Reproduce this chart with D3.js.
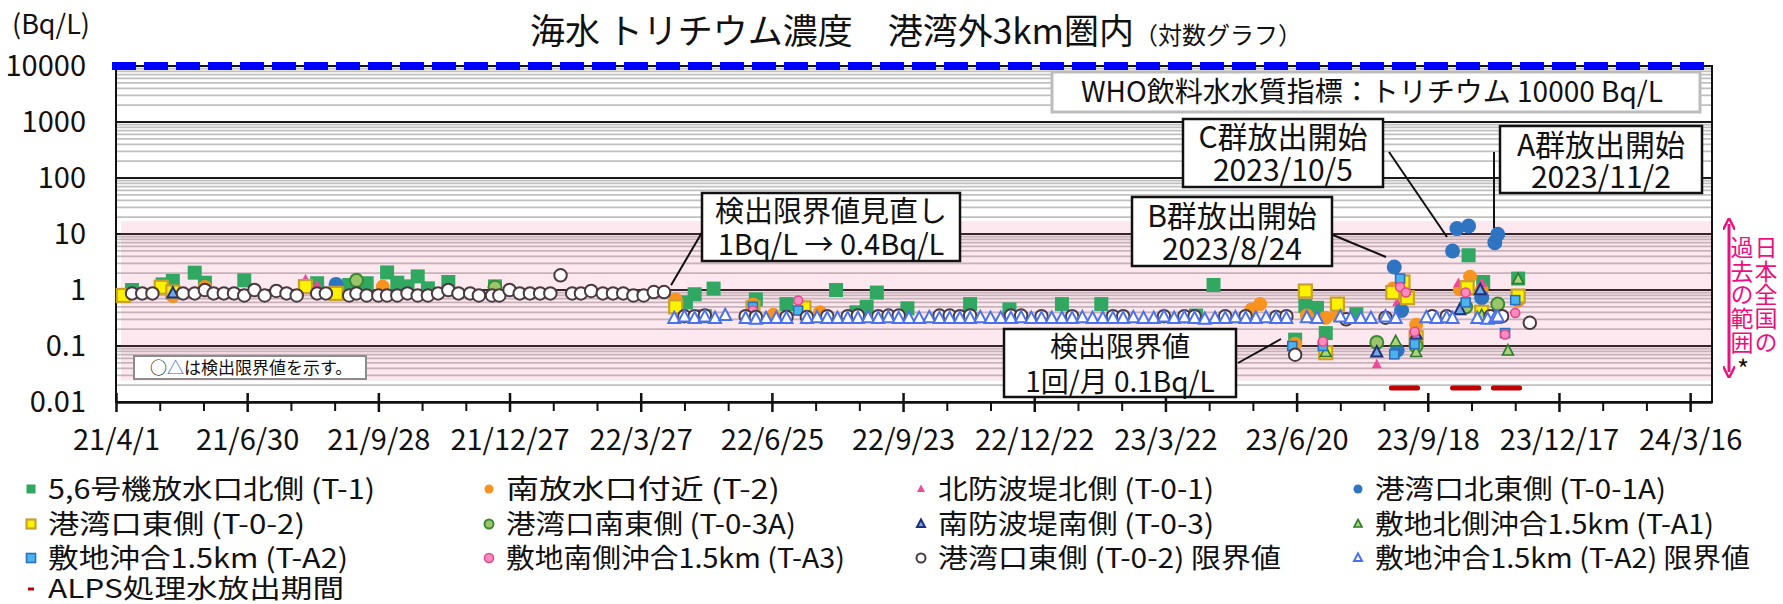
<!DOCTYPE html>
<html lang="ja">
<head>
<meta charset="UTF-8">
<title>海水 トリチウム濃度</title>
<script src="https://cdn.jsdelivr.net/npm/d3@7"></script>
<style>
  body { margin: 0; background: #fff; }
  #chart { position: relative; width: 1783px; height: 604px; }
  text { font-family: "Noto Sans CJK JP", "Noto Sans", sans-serif; fill: #111; }
  .vlabel { position: absolute; writing-mode: vertical-rl; font-family: "Noto Sans CJK JP", sans-serif;
            font-size: 23px; line-height: 24px; letter-spacing: 0.6px; color: #ec0f7e; white-space: nowrap; }
</style>
</head>
<body>
<div id="chart"></div>
<script>

// ---- data (date as yy/m/d, value Bq/L) ----
var t1 = ["21/4/12 1.0","21/5/3 1.26","21/5/10 1.45","21/5/25 2.04","21/6/1 1.35","21/6/28 1.49","21/8/17 1.32",
    "21/9/8 1.23","21/9/20 1.32","21/10/4 2.06","21/10/11 1.35","21/10/18 1.16","21/10/25 1.75","21/11/1 1.07",
    "21/11/15 1.39","21/12/17 1.16","22/4/27 0.6","22/5/3 0.84","22/5/10 0.34","22/5/16 1.06","22/6/14 0.68",
    "22/7/5 0.56","22/8/8 1.0","22/8/22 0.4","22/8/29 0.5","22/9/5 0.9","22/9/26 0.47","22/11/8 0.56",
    "22/12/5 0.45","23/1/10 0.56","23/2/6 0.56","23/4/12 0.35","23/4/24 1.23","23/6/19 0.13","23/6/26 0.52",
    "23/7/4 0.48","23/7/10 0.17","23/7/31 0.37","23/9/4 0.75","23/10/16 4.17","23/10/26 1.39","23/11/19 1.6"];
var t2 = ["21/5/10 0.78","21/6/1 1.13","21/10/1 1.15","22/4/20 0.68","22/6/12 0.55","22/6/26 0.36","22/7/28 0.4",
    "23/5/20 0.45","23/5/26 0.56","23/6/19 0.11","23/6/27 0.35","23/7/10 0.32","23/7/18 0.35","23/8/25 1.06",
    "23/9/10 0.24","23/10/10 1.03","23/10/17 1.73","23/10/25 1.0","23/11/3 0.35","23/11/19 0.65"];
var t01 = ["21/8/9 1.55","21/8/17 1.21","23/8/14 0.047","23/8/28 0.6","23/10/9 1.32","23/10/25 1.32"];
var t01a = ["21/8/30 1.26","23/8/26 2.58","23/8/28 0.084","23/8/31 0.43","23/10/5 4.97","23/10/8 12.5",
    "23/10/16 13.9","23/10/25 0.73","23/11/3 7.0","23/11/5 9.9"];
var t02 = ["21/4/6 0.8","21/5/2 1.12","21/5/10 0.92","21/8/9 1.15","21/8/30 0.87","22/4/20 0.5","22/6/12 0.48",
    "22/7/17 0.48","23/6/26 0.96","23/7/10 0.076","23/7/18 0.56","23/8/25 0.9","23/9/1 1.39","23/9/4 0.73",
    "23/9/10 0.14","23/10/15 1.1","23/10/25 0.4","23/11/19 0.78"];
var t03a = ["21/9/13 1.49","21/12/17 1.12","23/8/14 0.116","23/9/10 0.1","23/10/14 0.5","23/11/5 0.56"];
var t03 = ["21/5/10 0.87","23/8/14 0.077","23/9/10 0.16","23/10/10 0.44","23/10/24 1.0"];
var ta1 = ["23/7/10 0.077","23/8/27 0.12","23/9/10 0.077","23/10/25 0.35","23/11/12 0.082","23/11/19 1.55"];
var ta2 = ["22/6/12 0.5","22/7/13 0.43","23/6/17 0.10","23/7/8 0.10","23/8/26 0.071","23/8/30 1.6",
    "23/9/9 0.108","23/10/14 0.6","23/11/10 0.17","23/11/17 0.66"];
var ta3 = ["22/6/12 0.43","22/7/13 0.65","23/7/8 0.12","23/8/30 1.13","23/9/3 0.9","23/9/9 0.18",
    "23/10/14 0.9","23/11/10 0.16","23/11/17 0.39"];
var t02Limit = ["21/4/12 0.87","21/4/19 0.87","21/4/26 0.87","21/5/17 0.87","21/5/25 0.87","21/6/1 1.0",
    "21/6/7 0.87","21/6/14 0.87","21/6/21 0.87","21/6/28 0.8","21/7/5 1.0","21/7/12 0.8","21/7/20 0.96",
    "21/7/27 0.87","21/8/3 0.8","21/8/17 0.87","21/8/23 0.87","21/9/8 0.8","21/9/13 0.87","21/9/20 0.8",
    "21/9/28 0.8","21/10/4 0.8","21/10/11 0.8","21/10/18 0.87","21/10/25 0.8","21/11/1 0.8","21/11/8 0.87",
    "21/11/15 1.0","21/11/22 0.87","21/11/30 0.87","21/12/6 0.8","21/12/15 0.8","21/12/20 0.8","21/12/27 1.0",
    "22/1/3 0.87","22/1/10 0.87","22/1/17 0.87","22/1/24 0.87","22/1/31 1.83","22/2/8 0.87","22/2/14 0.87",
    "22/2/21 0.96","22/3/1 0.87","22/3/8 0.87","22/3/15 0.87","22/3/22 0.8","22/3/29 0.8","22/4/5 0.92",
    "22/4/12 0.92",
    "22/4/26 0.34","22/5/3 0.34","22/5/10 0.35","22/6/7 0.34","22/6/14 0.33","22/7/5 0.33","22/7/19 0.33",
    "22/8/2 0.34","22/8/16 0.34","22/8/23 0.35","22/9/6 0.34","22/9/13 0.35","22/9/20 0.35","22/10/18 0.35",
    "22/10/25 0.35","22/11/1 0.34","22/11/8 0.35","22/12/6 0.35","22/12/13 0.35","22/12/27 0.34",
    "23/1/17 0.34","23/2/14 0.34","23/2/21 0.34","23/3/21 0.34","23/4/4 0.34","23/4/11 0.34","23/5/2 0.34",
    "23/5/16 0.34","23/6/6 0.33","23/6/13 0.34","23/6/19 0.07","23/7/24 0.30","23/8/20 0.32","23/9/21 0.34",
    "23/10/1 0.34","23/10/31 0.34","23/11/8 0.34","23/11/27 0.26"];
var ta2Limit = ["22/4/19 0.31","22/4/26 0.33","22/5/3 0.31","22/5/10 0.33","22/5/17 0.31","22/5/24 0.35",
    "22/6/7 0.31","22/6/14 0.30","22/6/21 0.31","22/6/28 0.31","22/7/5 0.31","22/7/19 0.31","22/7/26 0.32",
    "22/8/2 0.31","22/8/9 0.31","22/8/16 0.31","22/8/23 0.31","22/8/30 0.32","22/9/6 0.31","22/9/13 0.32",
    "22/9/20 0.31","22/9/27 0.31","22/10/4 0.31","22/10/11 0.32","22/10/18 0.31","22/10/25 0.31","22/11/1 0.31",
    "22/11/8 0.31","22/11/15 0.32","22/11/22 0.31","22/11/29 0.31","22/12/6 0.31","22/12/13 0.32","22/12/20 0.31",
    "22/12/27 0.31","23/1/3 0.31","23/1/10 0.31","23/1/17 0.31","23/1/24 0.32","23/1/31 0.31","23/2/7 0.31",
    "23/2/14 0.31","23/2/21 0.31","23/2/28 0.32","23/3/7 0.31","23/3/14 0.31","23/3/21 0.33","23/3/28 0.31",
    "23/4/4 0.32","23/4/11 0.31","23/4/18 0.30","23/4/25 0.31","23/5/2 0.31","23/5/9 0.32","23/5/16 0.31",
    "23/5/23 0.31","23/5/30 0.32","23/6/6 0.31","23/6/13 0.31","23/6/27 0.32","23/7/4 0.31","23/7/20 0.33",
    "23/7/27 0.31","23/8/3 0.31","23/8/10 0.31","23/8/20 0.33","23/8/27 0.31","23/9/17 0.32","23/9/24 0.31",
    "23/10/1 0.32","23/10/5 0.31","23/10/22 0.31","23/10/29 0.30","23/11/3 0.31","23/11/5 0.33"];
var alpsPeriods = [["23/8/24", "23/9/11"], ["23/10/5", "23/10/23"], ["23/11/2", "23/11/20"]];

var yTicks = [0.01, 0.1, 1, 10, 100, 1000, 10000];
var whoLimit = 10000;
var pastRange = [0.024, 17];   // 日本全国の過去の範囲

var parseDate = d3.utcParse("%y/%m/%d");
function rows(list) {
    return list.map(function(s) {
        var p = s.split(" ");
        return {date: parseDate(p[0]), value: +p[1]};
    });
}

// lw = legend text width
var series = [
    {name: "5,6号機放水口北側  (T-1)", data: t1, shape: "square", size: 14, fill: "#30a862", stroke: "none", sw: 0, lw: 327},
    {name: "南放水口付近 (T-2)", data: t2, shape: "circle", size: 14, fill: "#f7931e", stroke: "none", sw: 0, lw: 274},
    {name: "北防波堤北側 (T-0-1)", data: t01, shape: "triangle", size: 10, fill: "#f0489a", stroke: "none", sw: 0, lw: 276},
    {name: "港湾口北東側 (T-0-1A)", data: t01a, shape: "circle", size: 15, fill: "#2f74c0", stroke: "none", sw: 0, lw: 291},
    {name: "港湾口東側 (T-0-2)", data: t02, shape: "square", size: 13, fill: "#fff200", stroke: "#c9a02c", sw: 2.2, lw: 257},
    {name: "港湾口南東側 (T-0-3A)", data: t03a, shape: "circle", size: 13, fill: "#9cc46b", stroke: "#3a8a30", sw: 2, lw: 290},
    {name: "南防波堤南側 (T-0-3)", data: t03, shape: "triangle", size: 11, fill: "#72a8e6", stroke: "#1f2f78", sw: 2, lw: 276},
    {name: "敷地北側沖合1.5km  (T-A1)", data: ta1, shape: "triangle", size: 11, fill: "#a8d37c", stroke: "#2d7a2a", sw: 1.6, lw: 339},
    {name: "敷地沖合1.5km  (T-A2)", data: ta2, shape: "square", size: 9, fill: "#4cb4ec", stroke: "#2b6fc0", sw: 1.6, lw: 300},
    {name: "敷地南側沖合1.5km  (T-A3)", data: ta3, shape: "circle", size: 9, fill: "#ff8cc0", stroke: "#e8468c", sw: 1.6, lw: 339},
    {name: "港湾口東側 (T-0-2) 限界値", data: t02Limit, shape: "circle", size: 12.5, fill: "#fff", stroke: "#4a3940", sw: 2, lw: 343},
    {name: "敷地沖合1.5km (T-A2) 限界値", data: ta2Limit, shape: "triangle", size: 12, fill: "#fff", stroke: "#4a72ee", sw: 2, lw: 375}
];

// ---- layout ----
var W = 1783, H = 604;
var start = parseDate("21/4/1");
var x = d3.scaleUtc().domain([start, parseDate("24/3/31")]).range([116, 1712]);
var y = d3.scaleLog().domain([0.01, 10000]).range([402, 66]);
var X0 = x.range()[0], X1 = x.range()[1], Y0 = y.range()[1], Y1 = y.range()[0];

var svg = d3.select("#chart").append("svg")
    .attr("width", W).attr("height", H)
    .attr("viewBox", "0 0 " + W + " " + H)
    .style("display", "block");

// minor grid
var minor = [];
yTicks.slice(0, -1).forEach(function(d) {
    for (var k = 2; k <= 9; k++) minor.push(d * k);
});
svg.append("g").selectAll("line").data(minor).enter().append("line")
    .attr("x1", X0).attr("x2", X1)
    .attr("y1", function(d) { return y(d); }).attr("y2", function(d) { return y(d); })
    .attr("stroke", "#c0c0c0").attr("stroke-width", 1.7);
svg.append("g").selectAll("line").data(yTicks).enter().append("line")
    .attr("x1", X0).attr("x2", X1)
    .attr("y1", function(d) { return y(d); }).attr("y2", function(d) { return y(d); })
    .attr("stroke", "#1a1a1a").attr("stroke-width", 2);

// past range band
svg.append("rect")
    .attr("x", X0 + 5).attr("width", X1 - X0 - 5)
    .attr("y", y(pastRange[1])).attr("height", y(pastRange[0]) - y(pastRange[1]))
    .attr("fill", "#f06292").attr("fill-opacity", 0.15);

// frame
svg.append("rect").attr("x", X0).attr("y", Y0).attr("width", X1 - X0).attr("height", Y1 - Y0)
    .attr("fill", "none").attr("stroke", "#111").attr("stroke-width", 2);

// WHO line
svg.append("line").attr("x1", X0 - 4).attr("x2", X1 - 8)
    .attr("y1", y(whoLimit)).attr("y2", y(whoLimit))
    .attr("stroke", "#0000ff").attr("stroke-width", 8).attr("stroke-dasharray", "24 8");

// x axis
var major = d3.range(0, 13).map(function(i) { return d3.utcDay.offset(start, 90 * i); });
var minorTicks = d3.range(1, 37).filter(function(i) { return i % 3 !== 0; })
    .map(function(i) { return d3.utcDay.offset(start, 30 * i); });
var fmt = d3.utcFormat("%y/%-m/%-d");

var gx = svg.append("g").attr("transform", "translate(0," + Y1 + ")")
    .call(d3.axisBottom(x).tickValues(major).tickFormat(fmt).tickSize(10).tickPadding(17).tickSizeOuter(0));
gx.select(".domain").attr("stroke", "#111").attr("stroke-width", 2.5);
gx.selectAll(".tick line").attr("y1", -9).attr("stroke", "#111").attr("stroke-width", 2.5);
gx.selectAll(".tick text").attr("font-size", 29).attr("font-family", "Noto Sans CJK JP").attr("fill", "#111");

var gm = svg.append("g").attr("transform", "translate(0," + Y1 + ")")
    .call(d3.axisBottom(x).tickValues(minorTicks).tickFormat("").tickSize(9).tickSizeOuter(0));
gm.select(".domain").remove();
gm.selectAll(".tick line").attr("stroke", "#111").attr("stroke-width", 2);

// y labels
svg.append("g").selectAll("text").data(yTicks).enter().append("text")
    .attr("x", 86).attr("y", function(d) { return y(d); }).attr("dy", "0.36em")
    .attr("text-anchor", "end").attr("font-size", 29)
    .text(function(d) { return d; });
svg.append("text").attr("x", 12).attr("y", 34).attr("font-size", 27).text("(Bq/L)");

// title
var title = svg.append("text").attr("x", 916).attr("y", 44).attr("text-anchor", "middle");
title.append("tspan").attr("font-size", 35).text("海水 トリチウム濃度　港湾外3km圏内");
title.append("tspan").attr("font-size", 24).text("（対数グラフ）");

// WHO box
svg.append("rect").attr("x", 1052).attr("y", 72).attr("width", 648).attr("height", 40)
    .attr("fill", "#fff").attr("stroke", "#bdbdbd").attr("stroke-width", 3);
svg.append("text").attr("x", 1372).attr("y", 92).attr("dy", "0.36em").attr("text-anchor", "middle")
    .attr("font-size", 28).text("WHO飲料水水質指標：トリチウム 10000 Bq/L");

// ALPS release periods
svg.append("g").selectAll("line").data(alpsPeriods).enter().append("line")
    .attr("x1", function(d) { return x(parseDate(d[0])); })
    .attr("x2", function(d) { return x(parseDate(d[1])); })
    .attr("y1", 388).attr("y2", 388)
    .attr("stroke", "#c00000").attr("stroke-width", 5).attr("stroke-linecap", "round");

// markers
function drawMarker(sel, s, size) {
    if (s.shape === "circle") {
        sel.append("circle").attr("r", size / 2);
    } else if (s.shape === "square") {
        sel.append("rect").attr("x", -size / 2).attr("y", -size / 2).attr("width", size).attr("height", size);
    } else {
        var h = size * 0.95;
        sel.append("path").attr("d", "M0," + (-h * 0.6) + "L" + (size / 2) + "," + (h * 0.4) + "L" + (-size / 2) + "," + (h * 0.4) + "Z");
    }
    sel.selectAll("*").attr("fill", s.fill).attr("stroke", s.stroke).attr("stroke-width", s.sw);
}

series.forEach(function(s) {
    var g = svg.append("g");
    rows(s.data).forEach(function(d) {
        var m = g.append("g").attr("transform", "translate(" + x(d.date) + "," + y(d.value) + ")");
        drawMarker(m, s, s.size);
    });
});

// annotation boxes (two lines in one text element)
function note(bx, by, bw, bh, lines, lineY, fs) {
    svg.append("rect").attr("x", bx).attr("y", by).attr("width", bw).attr("height", bh)
        .attr("fill", "#fff").attr("stroke", "#111").attr("stroke-width", 2.5);
    var t = svg.append("text").attr("text-anchor", "middle").attr("font-size", fs);
    lines.forEach(function(s, i) {
        t.append("tspan").attr("x", bx + bw / 2).attr("y", lineY[i]).attr("dy", "0.36em").text(s);
    });
}
function leader(x1, y1, x2, y2) {
    svg.append("line").attr("x1", x1).attr("y1", y1).attr("x2", x2).attr("y2", y2)
        .attr("stroke", "#111").attr("stroke-width", 2);
}

leader(704, 229, x(parseDate("22/4/12")) + 7, y(0.95) - 6);
note(702, 193, 258, 68, ["検出限界値見直し", "1Bq/L → 0.4Bq/L"], [212, 245], 29);

leader(1238, 363, 1281, 339);
note(1004, 329, 232, 68, ["検出限界値", "1回/月 0.1Bq/L"], [347, 382], 28);

leader(1333, 235, 1386, 257);
note(1132, 197, 200, 69, ["B群放出開始", "2023/8/24"], [216, 249], 30);

leader(1389, 152, 1447, 237);
note(1183, 119, 200, 68, ["C群放出開始", "2023/10/5"], [137, 170], 30);

leader(1494, 152, 1494, 228);
note(1500, 126, 202, 67, ["A群放出開始", "2023/11/2"], [145, 177], 30);

// note inside plot
svg.append("rect").attr("x", 134).attr("y", 356).attr("width", 232).attr("height", 23)
    .attr("fill", "#fff").attr("stroke", "#8c8c8c").attr("stroke-width", 2);
var ln = svg.append("text").attr("x", 150).attr("y", 368).attr("dy", "0.36em").attr("font-size", 17);
ln.append("tspan").text("○");
ln.append("tspan").attr("fill", "#3d5be0").text("△");
ln.append("tspan").text("は検出限界値を示す。");

// past range arrow & label
var pink = "#ec0f7e";
svg.append("defs").append("marker").attr("id", "ah").attr("viewBox", "0 0 10 10")
    .attr("refX", 5).attr("refY", 5).attr("markerWidth", 4).attr("markerHeight", 4).attr("orient", "auto-start-reverse")
    .append("path").attr("d", "M0,0L10,5L0,10").attr("fill", "none").attr("stroke", pink).attr("stroke-width", 2);
svg.append("line").attr("x1", 1729).attr("x2", 1729).attr("y1", 224).attr("y2", 372)
    .attr("stroke", pink).attr("stroke-width", 3)
    .attr("marker-start", "url(#ah)").attr("marker-end", "url(#ah)");
d3.select("#chart").append("div").attr("class", "vlabel")
    .style("left", "1730px").style("top", "236px")
    .html("日本全国の<br>過去の範囲");
svg.append("text").attr("x", 1743).attr("y", 370).attr("dy", "0.36em").attr("text-anchor", "middle")
    .attr("font-size", 26).attr("fill", pink).text("*");

// legend
var legCols = [31, 489, 921, 1358];
var legRows = [489, 524, 558, 589];
series.forEach(function(s, i) {
    var cx = legCols[i % 4], cy = legRows[Math.floor(i / 4)];
    var m = svg.append("g").attr("transform", "translate(" + cx + "," + cy + ")");
    var ls = s.shape === "triangle" ? 8 : 9;
    drawMarker(m, s, ls);
    svg.append("text").attr("x", cx + 17).attr("y", cy).attr("dy", "0.36em").attr("font-size", 27)
        .attr("textLength", s.lw).attr("lengthAdjust", "spacingAndGlyphs").text(s.name);
});
svg.append("line").attr("x1", legCols[0] - 3).attr("x2", legCols[0] + 3)
    .attr("y1", legRows[3]).attr("y2", legRows[3]).attr("stroke", "#c00000").attr("stroke-width", 3);
svg.append("text").attr("x", legCols[0] + 17).attr("y", legRows[3]).attr("dy", "0.33em")
    .attr("font-size", 26).attr("textLength", 296).attr("lengthAdjust", "spacingAndGlyphs").text("ALPS処理水放出期間");

</script>
</body>
</html>
